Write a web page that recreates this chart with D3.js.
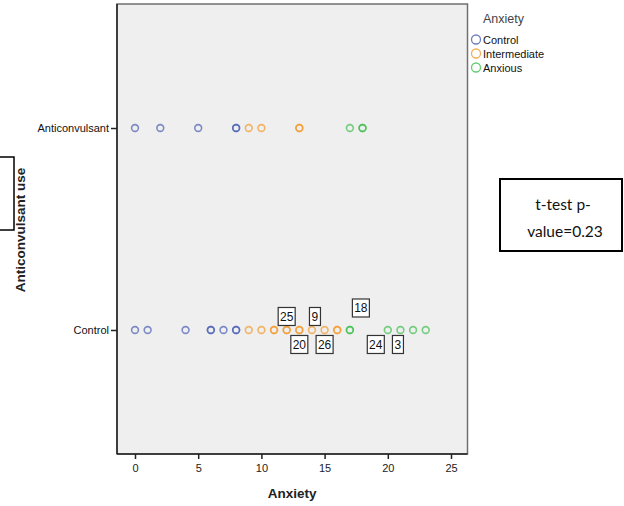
<!DOCTYPE html>
<html>
<head>
<meta charset="utf-8">
<script src="https://cdn.jsdelivr.net/npm/d3@7"></script>
<style>
  html, body { margin: 0; padding: 0; background: #ffffff; }
  svg { display: block; font-family: Arial, "Liberation Sans", sans-serif; }
</style>
</head>
<body>
<svg id="chart" width="624" height="506"></svg>
<script>
// Anxiety scores per anticonvulsant-use group
const groups = ["Anticonvulsant", "Control"];
const anticonvulsantScores = [0, 2, 5, 8, 8, 9, 10, 13, 13, 17, 18, 18];
const controlScores = [0, 1, 4, 6, 6, 7, 8, 8, 9, 10, 11, 11, 12, 12, 13, 13, 14, 15, 16, 16, 17, 17, 20, 21, 22, 23];

// Anxiety category names and colours
const anxietyLevels = ["Control", "Intermediate", "Anxious"];
const anxietyColors = ["#4a5fb5", "#f39a2c", "#3fbf4f"];

// Axis ticks
const xTicks = [0, 5, 10, 15, 20, 25];

// Case labels on the Control row: case id, score it labels, side
const caseIds = ["25", "9", "18", "20", "26", "24", "3"];
const caseScores = [12, 14, 17, 13, 15, 20, 21];
const caseSides = ["above", "above", "above2", "below", "below", "below", "below"];
const caseNudge = [0, 3, 11, 0, 0, -12, -2.5];

const svg = d3.select("#chart");

const plot = { left: 117, right: 467.5, top: 4, bottom: 454 };

const x = d3.scaleLinear().domain([0, 25]).range([135, 451]);
const y = d3.scalePoint().domain(groups).range([plot.top, plot.bottom]).padding(0.614);

function category(score) {
  return score <= 8 ? 0 : (score <= 16 ? 1 : 2);
}

// Plot background and frame
svg.append("rect")
  .attr("x", plot.left).attr("y", plot.top)
  .attr("width", plot.right - plot.left).attr("height", plot.bottom - plot.top)
  .attr("fill", "#efefef").attr("stroke", "#707070").attr("stroke-width", 1.5);

// X axis
const xAxis = svg.append("g")
  .attr("transform", `translate(0,${plot.bottom})`)
  .call(d3.axisBottom(x).tickValues(xTicks).tickSize(5).tickPadding(5));
xAxis.select(".domain").attr("d", `M${plot.left},0H${plot.right}`).attr("stroke", "#222").attr("stroke-width", 1.5);
xAxis.selectAll(".tick line").attr("stroke", "#222").attr("stroke-width", 1.5);
xAxis.selectAll(".tick text").attr("font-size", 11).attr("fill", "#222")
  .attr("font-family", "Arial, 'Liberation Sans', sans-serif");

// Y axis
const yAxis = svg.append("g")
  .attr("transform", `translate(${plot.left},0)`)
  .call(d3.axisLeft(y).tickSize(6).tickPadding(2));
yAxis.select(".domain").attr("d", `M0,${plot.top}V${plot.bottom}`).attr("stroke", "#222").attr("stroke-width", 1.5);
yAxis.selectAll(".tick line").attr("stroke", "#222").attr("stroke-width", 1.5);
yAxis.selectAll(".tick text").attr("font-size", 11).attr("fill", "#111")
  .attr("font-family", "Arial, 'Liberation Sans', sans-serif");

// Axis titles
svg.append("text")
  .attr("x", (plot.left + plot.right) / 2).attr("y", 498)
  .attr("text-anchor", "middle").attr("font-size", 13.5).attr("font-weight", "bold")
  .attr("fill", "#222").text("Anxiety");

svg.append("text")
  .attr("transform", "translate(25,230) rotate(-90)")
  .attr("text-anchor", "middle").attr("font-size", 13.5).attr("font-weight", "bold")
  .attr("fill", "#222").text("Anticonvulsant use");

// Partially visible note box at the left edge
svg.append("rect")
  .attr("x", -40).attr("y", 157).attr("width", 54).attr("height", 73)
  .attr("fill", "none").attr("stroke", "#000").attr("stroke-width", 1.5);

// Points
const rows = [
  { group: "Anticonvulsant", scores: anticonvulsantScores },
  { group: "Control", scores: controlScores }
];
rows.forEach(row => {
  svg.append("g").selectAll("circle")
    .data(row.scores)
    .join("circle")
    .attr("cx", d => x(d))
    .attr("cy", y(row.group))
    .attr("r", 3.4)
    .attr("fill", "none")
    .attr("stroke", d => anxietyColors[category(d)])
    .attr("stroke-opacity", 0.7)
    .attr("stroke-width", 1.6);
});

// Case labels
const labelG = svg.append("g");
caseIds.forEach((id, i) => {
  const cx = x(caseScores[i]) + caseNudge[i];
  const off = caseSides[i] === "above" ? -13.5 : (caseSides[i] === "above2" ? -22 : 14.5);
  const cy = y("Control") + off;
  const w = id.length === 1 ? 11 : 17;
  const h = 18;
  labelG.append("rect")
    .attr("x", cx - w / 2).attr("y", cy - h / 2)
    .attr("width", w).attr("height", h)
    .attr("fill", "#fff").attr("stroke", "#333").attr("stroke-width", 1.2);
  labelG.append("text")
    .attr("x", cx).attr("y", cy + 4.5)
    .attr("text-anchor", "middle").attr("font-size", 12).attr("fill", "#111")
    .text(id);
});

// Legend
const legend = svg.append("g");
legend.append("text")
  .attr("x", 483).attr("y", 23).attr("font-size", 12.5).attr("fill", "#444").text("Anxiety");
anxietyLevels.forEach((name, i) => {
  const ly = 39.5 + i * 14;
  legend.append("circle")
    .attr("cx", 476).attr("cy", ly).attr("r", 4.5)
    .attr("fill", "none").attr("stroke", anxietyColors[i]).attr("stroke-opacity", 0.8).attr("stroke-width", 1.3);
  legend.append("text")
    .attr("x", 483).attr("y", ly + 4).attr("font-size", 11).attr("fill", "#111").text(name);
});

// t-test note
const note = svg.append("g");
note.append("rect")
  .attr("x", 500).attr("y", 179).attr("width", 122).attr("height", 72)
  .attr("fill", "#fff").attr("stroke", "#000").attr("stroke-width", 2);
note.append("text")
  .attr("x", 563).attr("y", 210).attr("text-anchor", "middle")
  .attr("font-family", "Lato, 'Open Sans', sans-serif").attr("font-size", 15.5).attr("fill", "#111")
  .text("t-test p-");
note.append("text")
  .attr("x", 565).attr("y", 237).attr("text-anchor", "middle")
  .attr("font-family", "Lato, 'Open Sans', sans-serif").attr("font-size", 15.5).attr("fill", "#111")
  .text("value=0.23");
</script>
</body>
</html>
